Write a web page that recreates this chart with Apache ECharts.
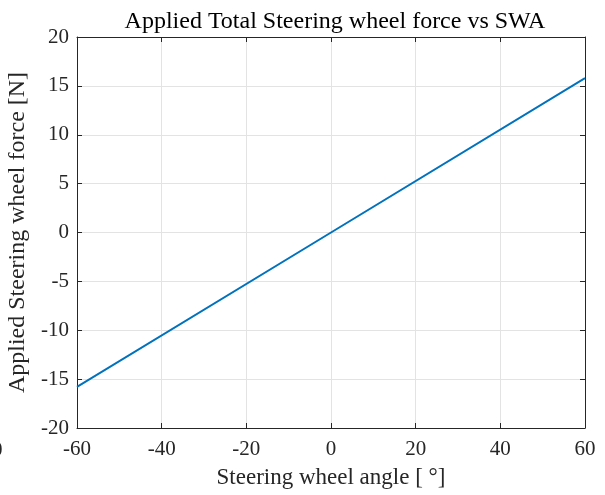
<!DOCTYPE html>
<html><head><meta charset="utf-8">
<script src="https://cdn.jsdelivr.net/npm/echarts@6/dist/echarts.min.js"></script>
<style>html,body{margin:0;padding:0;background:#fff}#c{width:605px;height:495px}</style>
</head><body><div id="c"></div>
<script>
const swa = [-60, 0, 60];
const force = [-15.8, 0, 15.8];
const xTicks = [-60, -40, -20, 0, 20, 40, 60];
const yTicks = [-20, -15, -10, -5, 0, 5, 10, 15, 20];

const font = '"Liberation Serif","Times New Roman",serif';
const axisCol = '#262626';
const chart = echarts.init(document.getElementById('c'), null, {renderer: 'canvas'});
const common = {
  axisLine: {show: true, onZero: false, lineStyle: {color: axisCol, width: 1}},
  axisTick: {show: true, inside: true, length: 5, lineStyle: {color: axisCol}},
};
chart.setOption({
  animation: false,
  title: {text: 'Applied Total Steering wheel force vs SWA', left: 330, textAlign: 'center', top: 5,
    textStyle: {fontFamily: font, fontWeight: 'normal', fontSize: 24, color: '#000'}},
  grid: {left: 77, right: 20, top: 37, bottom: 67, containLabel: false, outerBoundsMode: 'none'},
  graphic: [{type: 'text', left: -8, top: 440, style: {text: '0', fontFamily: font, fontSize: 21, fill: '#262626'}}],
  xAxis: [
    Object.assign({type: 'value', min: -60, max: 60, interval: 20, position: 'bottom',
      name: 'Steering wheel angle [ °]', nameLocation: 'middle', nameGap: 38,
      nameTextStyle: {fontFamily: font, fontSize: 23, color: '#262626'},
      axisLabel: {fontFamily: font, fontSize: 21, color: '#262626', margin: 11},
      splitLine: {show: true, lineStyle: {color: '#e3e3e3', width: 1}}}, common),
    Object.assign({type: 'value', min: -60, max: 60, interval: 20, position: 'top',
      axisLabel: {show: false}, splitLine: {show: false}}, common)
  ],
  yAxis: [
    Object.assign({type: 'value', min: -20, max: 20, interval: 5, position: 'left',
      name: 'Applied Steering wheel force [N]', nameLocation: 'middle', nameGap: 46,
      nameTextStyle: {fontFamily: font, fontSize: 24, color: '#262626'},
      axisLabel: {fontFamily: font, fontSize: 21, color: '#262626', margin: 8},
      splitLine: {show: true, lineStyle: {color: '#e3e3e3', width: 1}}}, common),
    Object.assign({type: 'value', min: -20, max: 20, interval: 5, position: 'right',
      axisLabel: {show: false}, splitLine: {show: false}}, common)
  ],
  series: [{type: 'line', data: swa.map((x, i) => [x, force[i]]), showSymbol: false,
    lineStyle: {color: '#0072BD', width: 2}, xAxisIndex: 0, yAxisIndex: 0}]
});
</script></body></html>
